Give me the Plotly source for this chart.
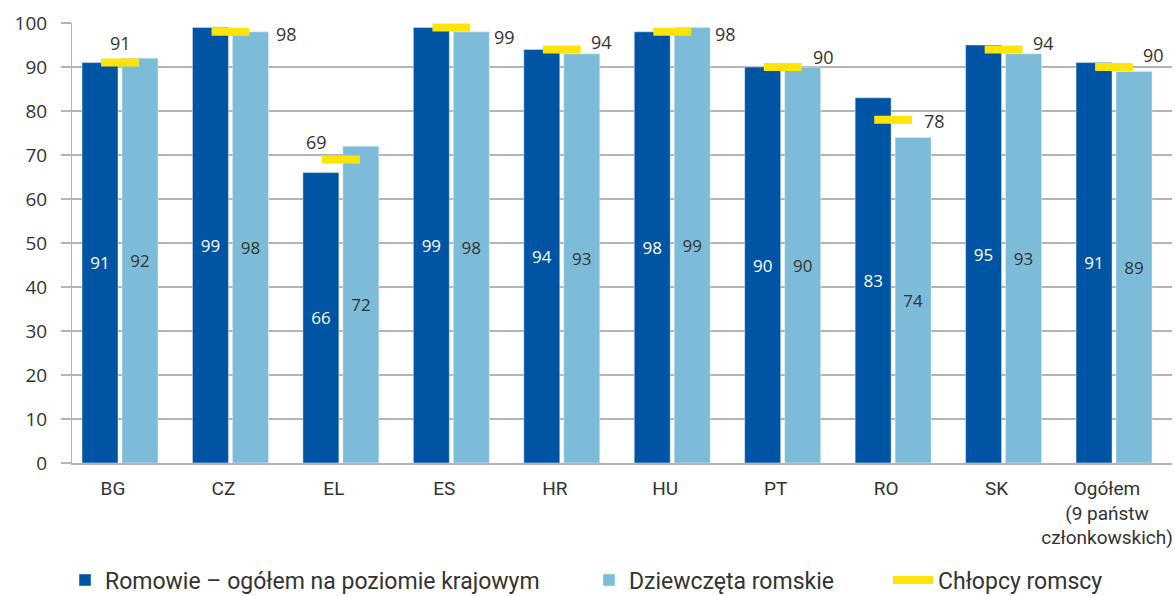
import plotly.graph_objects as go

categories = ["BG", "CZ", "EL", "ES", "HR", "HU", "PT", "RO", "SK",
              "Ogółem<br>(9 państw<br>członkowskich)"]
roma_total = [91, 99, 66, 99, 94, 98, 90, 83, 95, 91]
roma_girls = [92, 98, 72, 98, 93, 99, 90, 74, 93, 89]
roma_boys = [91, 98, 69, 99, 94, 98, 90, 78, 94, 90]
y_ticks = [0, 10, 20, 30, 40, 50, 60, 70, 80, 90, 100]

# label offsets (pixels) for the boys' value labels
boys_label_dx = [0, 56, -24, 53, 40, 53, 41, 41, 40, 39]
boys_label_dy = [20, -2, 17, -10, 7, -2, 10, -1, 6, 12]

DARK = "#0054A4"
LIGHT = "#7DBCD8"
YELLOW = "#FFE40A"
TXT = "#333333"
GRID = "#B4B4B4"
FONT = "Open Sans"

fig = go.Figure()
fig.add_trace(go.Bar(
    x=categories, y=roma_total, name="Romowie – ogółem na poziomie krajowym",
    marker_color=DARK, text=[str(v) for v in roma_total],
    textposition="inside", insidetextanchor="middle", textangle=0,
    textfont=dict(color="white", size=17, family=FONT),
    legend="legend"))
fig.add_trace(go.Bar(
    x=categories, y=roma_girls, name="Dziewczęta romskie",
    marker_color=LIGHT, text=[str(v) for v in roma_girls],
    textposition="inside", insidetextanchor="middle", textangle=0,
    textfont=dict(color=TXT, size=17, family=FONT),
    legend="legend2"))
fig.add_trace(go.Scatter(
    x=categories, y=roma_boys, mode="markers", showlegend=False,
    marker=dict(symbol="line-ew", size=27, color=YELLOW,
                line=dict(width=8, color=YELLOW)),
    cliponaxis=False))
fig.add_trace(go.Scatter(
    x=[None], y=[None], mode="lines", name="Chłopcy romscy",
    line=dict(color=YELLOW, width=8), legend="legend3"))

for c, v, dx, dy in zip(categories, roma_boys, boys_label_dx, boys_label_dy):
    fig.add_annotation(x=c, y=v, text=str(v), showarrow=False,
                       xshift=dx, yshift=dy,
                       font=dict(size=18, color=TXT, family=FONT))

legend_common = dict(orientation="h", yanchor="middle", y=-0.266,
                     xanchor="left", font=dict(size=23, color=TXT, family="Roboto"),
                     bgcolor="rgba(0,0,0,0)")

fig.update_layout(
    width=1175, height=596,
    margin=dict(l=72, r=3, t=23, b=133, autoexpand=False),
    paper_bgcolor="white", plot_bgcolor="white",
    barmode="group", bargap=0.276, bargroupgap=0.1,
    font=dict(family=FONT, color=TXT),
    legend=dict(x=(65 - 72) / 1100, **legend_common),
    legend2=dict(x=(589 - 72) / 1100, **legend_common),
    legend3=dict(x=(888 - 72) / 1100, itemwidth=40, **legend_common),
    xaxis=dict(range=[-0.4346, 9.525], showgrid=False, automargin=False,
               showline=True, linecolor=GRID, linewidth=2,
               ticks="", ticklabelstandoff=7, ticklabelshift=-7,
               tickfont=dict(size=19, color=TXT, family="Roboto")),
    yaxis=dict(range=[0, 100], tickvals=y_ticks, showgrid=True, automargin=False,
               gridcolor=GRID, gridwidth=2, zeroline=False,
               showline=True, linecolor=GRID, linewidth=1,
               ticks="outside", ticklen=10, tickcolor=GRID, tickwidth=2,
               ticklabelstandoff=10,
               tickfont=dict(size=19, color=TXT, family=FONT)),
)

fig.write_html("out.html",
               config={"displayModeBar": False},
               post_script="document.body.style.margin='0';"
                           "document.body.style.padding='0';"
                           "document.body.style.overflow='hidden';")
